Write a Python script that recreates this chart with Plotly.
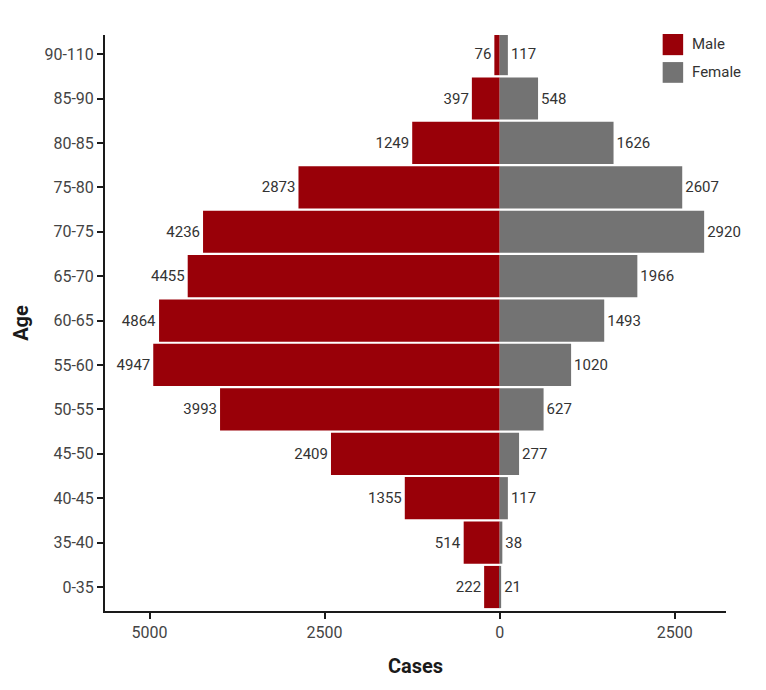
import plotly.graph_objects as go

age_groups = ["0-35", "35-40", "40-45", "45-50", "50-55", "55-60", "60-65",
              "65-70", "70-75", "75-80", "80-85", "85-90", "90-110"]
male = [222, 514, 1355, 2409, 3993, 4947, 4864, 4455, 4236, 2873, 1249, 397, 76]
female = [21, 38, 117, 277, 627, 1020, 1493, 1966, 2920, 2607, 1626, 548, 117]
tick_vals = [-5000, -2500, 0, 2500]
tick_text = ["5000", "2500", "0", "2500"]

MALE_C = "#990008"
FEMALE_C = "#737373"
FONT = "Roboto, Arial, sans-serif"

fig = go.Figure()
fig.add_trace(go.Bar(y=age_groups, x=[-v for v in male], orientation="h", name="Male",
                     marker=dict(color=MALE_C, line=dict(width=0)),
                     text=[str(v) for v in male], textposition="outside",
                     textfont=dict(size=15, color="#333333"), cliponaxis=False, width=0.95))
fig.add_trace(go.Bar(y=age_groups, x=female, orientation="h", name="Female",
                     marker=dict(color=FEMALE_C, line=dict(width=0)),
                     text=[str(v) for v in female], textposition="outside",
                     textfont=dict(size=15, color="#333333"), cliponaxis=False, width=0.95))

# legend drawn by hand to match the big square keys
legend_items = [("Male", MALE_C, 0.965, 1.0017, 0.984),
                ("Female", FEMALE_C, 0.917, 0.953, 0.936)]
for lab, col, y0, y1, ym in legend_items:
    fig.add_shape(type="rect", xref="paper", yref="paper",
                  x0=0.898, x1=0.931, y0=y0, y1=y1,
                  fillcolor=col, line=dict(width=0))
    fig.add_annotation(xref="paper", yref="paper", x=0.942, y=ym, text=lab,
                       showarrow=False, xanchor="left", yanchor="middle",
                       font=dict(size=15, color="#333333", family=FONT))

fig.update_layout(
    width=758, height=682,
    barmode="overlay",
    showlegend=False,
    plot_bgcolor="white", paper_bgcolor="white",
    font=dict(family=FONT, color="#333333"),
    margin=dict(l=92, r=40, t=27, b=79),
    xaxis=dict(range=[-5636, 3232], tickvals=tick_vals, ticktext=tick_text,
               showgrid=False, zeroline=False, showline=True, linecolor="#1a1a1a",
               linewidth=2, ticks="outside", ticklen=6, tickwidth=1.5, tickcolor="#1a1a1a",
               tickfont=dict(size=16, color="#444444"),
               title=dict(text="<b>Cases</b>", font=dict(size=20, color="#1a1a1a"), standoff=18)),
    yaxis=dict(categoryorder="array", categoryarray=age_groups, range=[-0.54, 12.43],
               showgrid=False, zeroline=False, showline=True, linecolor="#1a1a1a",
               linewidth=2, ticks="outside", ticklen=6, tickwidth=1.5, tickcolor="#1a1a1a",
               tickfont=dict(size=16, color="#444444"),
               title=dict(text="<b>Age</b>", font=dict(size=20, color="#1a1a1a"), standoff=10)),
)

fig.write_html("out.html")
